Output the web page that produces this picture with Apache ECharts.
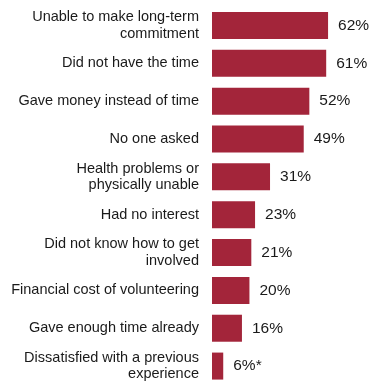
<!DOCTYPE html>
<html>
<head>
<meta charset="utf-8">
<script src="https://cdn.jsdelivr.net/npm/echarts@6/dist/echarts.min.js"></script>
<style>
  html, body { margin: 0; padding: 0; background: #fff; }
  #chart { width: 370px; height: 385px; }
</style>
</head>
<body>
<div id="chart"></div>
<script>
const categories = [
  'Unable to make long-term\ncommitment',
  'Did not have the time',
  'Gave money instead of time',
  'No one asked',
  'Health problems or\nphysically unable',
  'Had no interest',
  'Did not know how to get\ninvolved',
  'Financial cost of volunteering',
  'Gave enough time already',
  'Dissatisfied with a previous\nexperience'
]
const values = [62, 61, 52, 49, 31, 23, 21, 20, 16, 6]
const valueLabels = ['62%', '61%', '52%', '49%', '31%', '23%', '21%', '20%', '16%', '6%*']

const chart = echarts.init(document.getElementById('chart'))

chart.setOption({
  animation: false,
  grid: {
    left: 212,
    right: 0,
    top: 6.5,
    bottom: -1.5,
    containLabel: false
  },
  xAxis: {
    type: 'value',
    min: 0,
    max: 84.4,
    show: false
  },
  yAxis: {
    type: 'category',
    data: categories,
    inverse: true,
    axisLine: { show: false },
    axisTick: { show: false },
    axisLabel: {
      margin: 13,
      fontFamily: 'Liberation Sans',
      fontSize: 14.5,
      lineHeight: 16.5,
      color: '#1a1a1a',
      align: 'right'
    }
  },
  series: [
    {
      type: 'bar',
      data: values,
      barWidth: 27,
      itemStyle: { color: '#A3253A' },
      label: {
        show: true,
        position: 'right',
        distance: 10,
        fontFamily: 'Liberation Sans',
        fontSize: 15.5,
        color: '#1a1a1a',
        formatter: (p) => valueLabels[p.dataIndex]
      }
    }
  ]
})
</script>
</body>
</html>
